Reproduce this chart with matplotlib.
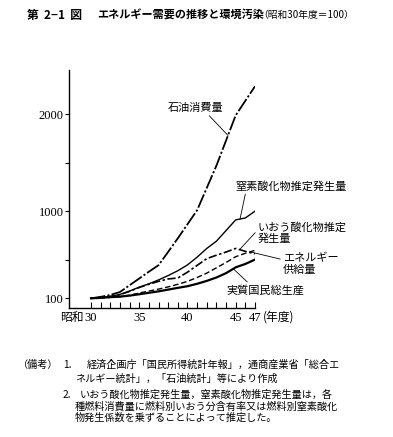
import numpy as np
import matplotlib
matplotlib.use("Agg")
from matplotlib import pyplot as plt

JP = ["Noto Sans CJK JP", "DejaVu Sans"]
NUM = ["Liberation Serif", "Noto Sans CJK JP"]

# data (index, showa 30 fiscal year = 100)
years = list(range(30, 48))
oil = [100, 115, 135, 165, 235, 305, 375, 442, 580, 720, 865, 1010, 1240, 1470, 1730, 1990, 2140, 2290]
nox = [100, 108, 120, 140, 175, 215, 250, 290, 335, 385, 445, 525, 615, 690, 800, 910, 930, 1000]
sox = [100, 108, 118, 138, 172, 212, 245, 275, 300, 310, 370, 440, 510, 545, 578, 615, 585, 560]
energy = [100, 104, 110, 116, 132, 155, 175, 195, 218, 245, 275, 315, 360, 415, 470, 530, 565, 595]
gnp = [100, 105, 112, 118, 128, 142, 157, 172, 190, 208, 225, 250, 280, 315, 360, 420, 455, 500]

xtick_pos = [30, 35, 40, 45, 47]
xtick_lab = ["30", "35", "40", "45", "47"]
ytick_pos = [100, 1000, 2000]
ytick_lab = ["100", "1000", "2000"]

W, H = 393, 437
fig = plt.figure(figsize=(W / 100, H / 100), dpi=100)
fig.patch.set_facecolor("white")

def px(x, y):
    return x / W, 1 - y / H

l, b = px(69.3, 308)
r, t = px(255, 70)
ax = fig.add_axes([l, b, r - l, t - b])

ax.plot(years, oil, color="black", lw=1.3, dashes=(8, 1.2, 1.2, 1.2))
ax.plot(years, nox, color="black", lw=1.0)
ax.plot(years, sox, color="black", lw=1.2, dashes=(5, 1.5, 1.5, 1.5))
ax.plot(years, energy, color="black", lw=1.0, dashes=(4, 2))
ax.plot(years, gnp, color="black", lw=1.6)

ax.set_xlim(27.75, 47.0)
ax.set_ylim(0, 2458)
for s in ["top", "right"]:
    ax.spines[s].set_visible(False)
for s in ["left", "bottom"]:
    ax.spines[s].set_linewidth(1.0)

ax.set_xticks(xtick_pos)
ax.set_xticklabels(xtick_lab, fontfamily=NUM, fontsize=9)
ax.set_xticks(years, minor=True)
ax.tick_params(axis="x", which="both", direction="in", length=4, width=0.8, pad=3)
ax.set_yticks(ytick_pos)
ax.set_yticklabels(ytick_lab, fontfamily=NUM, fontsize=9)
ax.set_yticks([500, 1500], minor=True)
ax.tick_params(axis="y", which="both", direction="out", length=3, width=0.8, pad=1)

def yrx(x):
    return 27.75 + (x - 69.3) * 0.10366

def valy(y):
    return (308 - y) * 10.33

# axis extras
ax.text(yrx(84), valy(317), "昭和", family=JP, fontsize=8.5,
        ha="right", va="center", clip_on=False)
ax.text(yrx(263), valy(317), "(年度)", family=JP, fontsize=8.5,
        ha="left", va="center", clip_on=False)

arrow = dict(arrowstyle="-", lw=0.6, color="black", shrinkA=0, shrinkB=0)

ax.annotate("石油消費量", xy=(44.2, np.interp(44.2, years, oil)),
            xytext=(yrx(195.5), valy(108)), ha="center", va="center",
            family=JP, fontsize=8,
            arrowprops=dict(arrow, relpos=(0.7, 0)), annotation_clip=False)
ax.annotate("窒素酸化物推定発生量", xy=(45.45, np.interp(45.45, years, nox)),
            xytext=(yrx(291.5), valy(186)), ha="center", va="center",
            family=JP, fontsize=8,
            arrowprops=dict(arrow, relpos=(0.09, 0)), annotation_clip=False)
ax.annotate("いおう酸化物推定\n発生量", xy=(45.4, np.interp(45.4, years, sox)),
            xytext=(yrx(258), valy(233)), ha="left", va="center",
            family=JP, fontsize=8, linespacing=1.1,
            arrowprops=dict(arrow, relpos=(0, 0.65)), annotation_clip=False)
ax.annotate("エネルギー\n供給量", xy=(46.5, np.interp(46.5, years, energy)),
            xytext=(yrx(283), valy(264)), ha="left", va="center",
            family=JP, fontsize=8, linespacing=1.1,
            arrowprops=dict(arrow, relpos=(0, 0.7)), annotation_clip=False)
ax.annotate("実質国民総生産", xy=(44.75, np.interp(44.75, years, gnp)),
            xytext=(yrx(265), valy(290)), ha="center", va="center",
            family=JP, fontsize=8,
            arrowprops=dict(arrow, relpos=(0.31, 1)), annotation_clip=False)

# title
fig.text(*px(27, 15), "第  2−1  図", family=JP, fontsize=8.5, weight="bold", va="center")
fig.text(*px(97, 15), "エネルギー需要の推移と環境汚染", family=JP, fontsize=8,
         weight="bold", va="center")
fig.text(*px(258, 15), "（昭和30年度＝100）", family=JP, fontsize=7, va="center")

# notes
notes = [
    (18, 365, "（備考）"),
    (63, 365, "1."),
    (87, 365, "経済企画庁「国民所得統計年報」，通商産業省「総合エ"),
    (75, 379, "ネルギー統計」，「石油統計」等により作成"),
    (63, 395, "2."),
    (80, 395, "いおう酸化物推定発生量，窒素酸化物推定発生量は，各"),
    (75, 406.5, "種燃料消費量に燃料別いおう分含有率又は燃料別窒素酸化"),
    (75, 418, "物発生係数を乗ずることによって推定した。"),
]
for x, y, s in notes:
    fig.text(*px(x, y), s, family=JP, fontsize=7.3, va="center")

fig.savefig("out.png", dpi=100)
